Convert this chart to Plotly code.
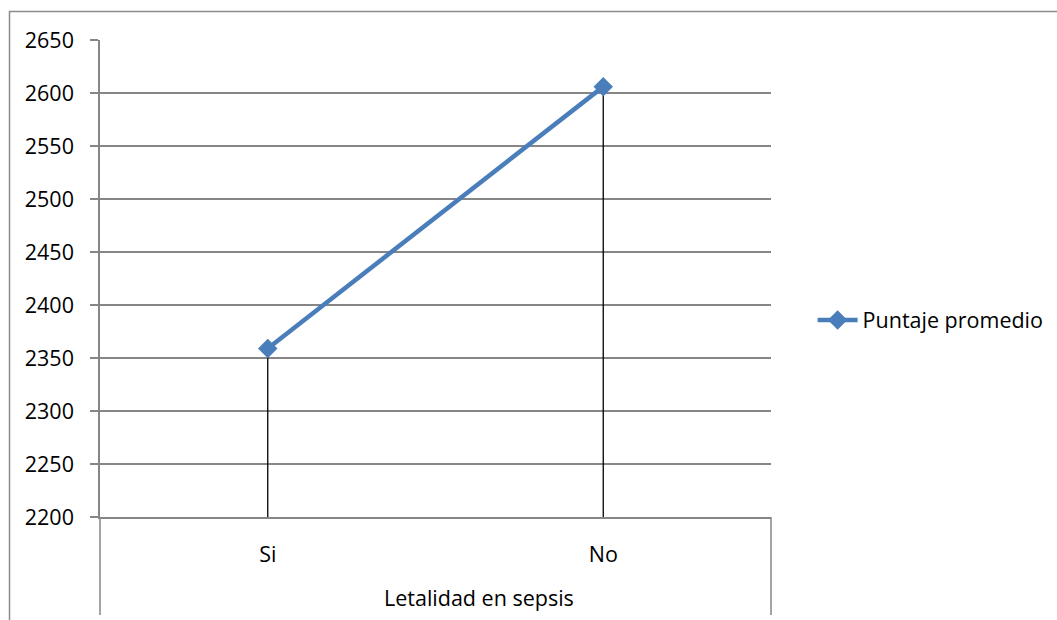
import plotly.graph_objects as go

categorias = ["Si", "No"]
puntaje_promedio = [2359, 2606]
y_ticks = [2200, 2250, 2300, 2350, 2400, 2450, 2500, 2550, 2600, 2650]
y_min, y_max = 2200, 2650
titulo_x = "Letalidad en sepsis"

FONT = "Open Sans"
FS = 21.5
AZUL = "#4a7ebb"
GRIS = "#868686"

fig = go.Figure()

# drop lines from each point down to the category axis
dx, dy = [], []
for c, v in zip(categorias, puntaje_promedio):
    dx += [c, c, None]
    dy += [y_min, v, None]
fig.add_trace(go.Scatter(
    x=dx, y=dy, mode="lines",
    line=dict(color="black", width=1.3),
    showlegend=False, hoverinfo="skip",
))

fig.add_trace(go.Scatter(
    x=categorias, y=puntaje_promedio,
    mode="lines+markers",
    name="Puntaje promedio",
    line=dict(color=AZUL, width=4.5),
    marker=dict(symbol="diamond", size=15, color=AZUL),
))

L, R, T, B = 100, 286, 40, 103
W, H = 1057, 620
pw, ph = W - L - R, H - T - B

def px(xp):
    return (xp - L) / pw

def py(yp):
    return (H - B - yp) / ph

shapes = [
    # outer chart frame
    dict(type="rect", xref="paper", yref="paper",
         x0=px(9.5), x1=px(1200), y0=py(11.5), y1=py(700),
         line=dict(color="#8c8c8c", width=1.5), fillcolor="rgba(0,0,0,0)", layer="below"),
    # category axis dividers below plot area
    dict(type="line", xref="paper", yref="paper",
         x0=0, x1=0, y0=0, y1=py(615), line=dict(color=GRIS, width=1.5)),
    dict(type="line", xref="paper", yref="paper",
         x0=1, x1=1, y0=0, y1=py(615), line=dict(color=GRIS, width=1.5)),
]

fig.update_layout(
    width=W, height=H,
    margin=dict(l=L, r=R, t=T, b=B, autoexpand=False),
    paper_bgcolor="white", plot_bgcolor="white",
    font=dict(family=FONT, size=FS, color="black"),
    shapes=shapes,
    annotations=[dict(
        text=titulo_x, xref="paper", yref="paper",
        x=px(479), y=py(597), xanchor="center", yanchor="middle",
        showarrow=False, font=dict(family=FONT, size=FS, color="black"),
    )],
    showlegend=True,
    legend=dict(x=1.062, y=py(320), xanchor="left", yanchor="middle",
                font=dict(family=FONT, size=FS, color="black"),
                bgcolor="rgba(0,0,0,0)", itemwidth=40),
    xaxis=dict(
        type="category", categoryorder="array", categoryarray=categorias,
        range=[-0.5, 1.5], showgrid=False, zeroline=False,
        showline=True, linecolor=GRIS, linewidth=1.5,
        ticks="", ticklabelstandoff=17, automargin=False,
    ),
    yaxis=dict(
        range=[y_min, y_max], tickvals=y_ticks,
        showgrid=True, gridcolor=GRIS, gridwidth=1.5,
        zeroline=False, showline=True, linecolor=GRIS, linewidth=1.5,
        ticks="outside", ticklen=8, tickcolor=GRIS, tickwidth=1.5,
        ticklabelstandoff=12, automargin=False,
    ),
)

fig.write_html("out.html")
